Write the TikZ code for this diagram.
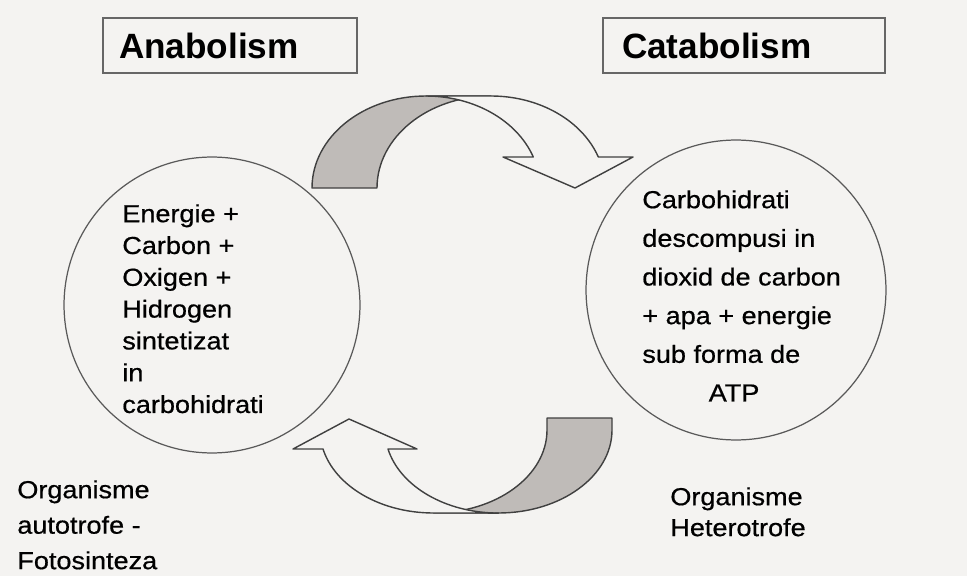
\documentclass[tikz,border=0pt]{standalone}
\usepackage{fontspec}
\setmainfont{Liberation Sans}
\newfontfamily\bodyfont[FakeStretch=1.1,FakeBold=0.6]{Liberation Sans}
\usepackage{tikz}
\definecolor{paper}{HTML}{F4F3F1}
\definecolor{shade}{HTML}{BFBBB8}

\begin{document}
\begin{tikzpicture}[x=0.02cm, y=0.02cm,
  titlebox/.style={draw=black!60, line width=0.9pt, minimum height=1.1cm,
    align=left, font=\bfseries\fontsize{20}{24}\selectfont},
  bubble/.style={draw=black!65, line width=0.7pt, circle, inner sep=0pt},
  bodytext/.style={anchor=north west, inner sep=0pt, align=left},
  backface/.style={fill=shade, draw=black!75, line width=0.8pt, line join=round},
  frontface/.style={fill=paper, draw=black!75, line width=0.8pt, line join=round}
]
\useasboundingbox (0,0) rectangle (967,576);
\fill[paper] (0,0) rectangle (967,576);

\node[titlebox, text width=4.44cm, inner xsep=0.32cm] (ana)  at (230,530.5) {Anabolism};
\node[titlebox, text width=4.88cm, inner xsep=0.38cm] (cata) at (744,530.5) {Catabolism};

\node[bubble, minimum size=5.92cm] (anaC)  at (212,271) {};
\node[bubble, minimum size=6cm]    (cataC) at (736,286) {};

\filldraw[backface] (312,388) arc[start angle=180, end angle=90, x radius=114, y radius=92]
  -- (491,480) arc[start angle=90, end angle=180, x radius=114, y radius=92] -- cycle;
\filldraw[frontface] (491,480) arc[start angle=90, end angle=19.7, x radius=114, y radius=92]
  -- (633,419) -- (575,388) -- (503,419) -- (533.3,419)
  arc[start angle=19.7, end angle=90, x radius=114, y radius=92] -- cycle;

\filldraw[backface] (547,158) -- (612,158) -- (612,146)
  arc[start angle=0, end angle=-90, x radius=113.5, y radius=83]
  -- (433.5,63) arc[start angle=270, end angle=360, x radius=113.5, y radius=83] -- cycle;
\filldraw[frontface] (433.5,63) arc[start angle=270, end angle=193.2, x radius=113.5, y radius=83]
  -- (293,127) -- (349,157) -- (417,127) -- (388,127)
  arc[start angle=193.2, end angle=270, x radius=113.5, y radius=83] -- cycle;

\node[bodytext, font=\bodyfont\fontsize{14}{18.1}\selectfont] (anaTxt) at (122,372)
  {Energie +\\Carbon +\\Oxigen +\\Hidrogen\\sintetizat\\in\\carbohidrati};
\node[bodytext, font=\bodyfont\fontsize{14}{22}\selectfont] (cataTxt) at (642,386)
  {Carbohidrati\\descompusi in\\dioxid de carbon\\+ apa + energie\\sub forma de\\\hspace*{2.7em}ATP};

\node[bodytext, font=\bodyfont\fontsize{14}{20.2}\selectfont] (autoLbl) at (17,96)
  {Organisme\\autotrofe -\\Fotosinteza};
\node[bodytext, font=\bodyfont\fontsize{14}{17.6}\selectfont] (heteroLbl) at (670,89)
  {Organisme\\Heterotrofe};
\end{tikzpicture}
\end{document}
